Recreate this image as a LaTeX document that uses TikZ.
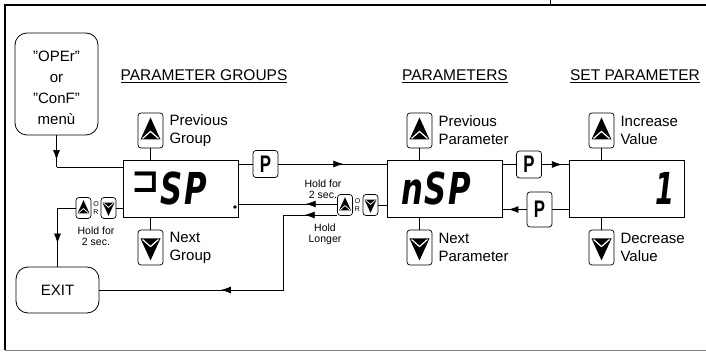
\documentclass[tikz,border=0pt]{standalone}
\usepackage{fontspec}
\setmainfont{Liberation Sans}
\newfontfamily\segfont{DejaVu Sans}
\usetikzlibrary{positioning, calc, arrows.meta, decorations.markings}

\tikzset{
  midarrow/.style={postaction={decorate}, decoration={markings,
      mark=at position #1 with {\arrow{Latex[length=10pt,width=7pt]}}}},
  midarrow/.default=0.5,
  wire/.style={line width=0.7pt},
  dispbox/.style={draw, line width=0.8pt, minimum width=115pt, minimum height=57pt, inner sep=0pt},
  menubox/.style={draw, line width=0.8pt, rounded corners=12pt, minimum width=83pt},
  menutext/.style={align=center, inner sep=0pt, font=\fontsize{15}{21}\selectfont},
  keybox/.style={draw, line width=0.7pt, rounded corners=3pt, inner sep=0pt},
  upkey/.style={keybox, minimum width=#1*25pt, minimum height=#1*35pt, path picture={
      \coordinate (kc) at (path picture bounding box.center);
      \fill[sharp corners] ($(kc)+(0,-13*#1)$) -- ($(kc)+(10*#1,9*#1)$) -- ($(kc)+(-10*#1,9*#1)$) -- cycle;
      \draw[white, line width=#1*1.2pt, sharp corners] ($(kc)+(-8*#1,8*#1)$) -- ($(kc)+(0,1*#1)$) -- ($(kc)+(8*#1,8*#1)$);
    }},
  upkey/.default=1,
  downkey/.style={keybox, minimum width=#1*25pt, minimum height=#1*35pt, path picture={
      \coordinate (kc) at (path picture bounding box.center);
      \fill[sharp corners] ($(kc)+(0,13*#1)$) -- ($(kc)+(10*#1,-9*#1)$) -- ($(kc)+(-10*#1,-9*#1)$) -- cycle;
      \draw[white, line width=#1*1.2pt, sharp corners] ($(kc)+(-8*#1,-8*#1)$) -- ($(kc)+(0,-1*#1)$) -- ($(kc)+(8*#1,-8*#1)$);
    }},
  downkey/.default=1,
  pkey/.style={keybox, minimum width=25pt, minimum height=#1, font=\bfseries\fontsize{24}{24}\selectfont},
  pkey/.default=27pt,
  lbl/.style={font=\fontsize{15}{18}\selectfont, align=left, inner sep=0pt},
  title/.style={font=\fontsize{15.5}{18}\selectfont},
  small/.style={font=\fontsize{10.5}{11}\selectfont, align=center, inner sep=0pt},
  ortext/.style={font=\fontsize{7}{7.5}\selectfont, align=center, inner sep=0pt},
  segtext/.style={font=\segfont\bfseries\itshape\fontsize{44}{44}\selectfont, inner sep=0pt}
}

\begin{document}
\begin{tikzpicture}[x=1pt, y=-1pt]
  \useasboundingbox (0,0) rectangle (706,352);

  % frame
  \draw[line width=1.2pt] (706,5) -- (5,5) -- (5,350);
  \draw[gray, line width=1pt] (5,350) -- (706,350);
  \draw[line width=1pt] (550,0) -- (550,5);

  % titles
  \node[title] (tgroups) at (204,76) {\underline{PARAMETER GROUPS}};
  \node[title] (tparams) at (455,76) {\underline{PARAMETERS}};
  \node[title] (tset) at (635,76) {\underline{SET PARAMETER}};

  % menu and exit
  \node[menubox, minimum height=102pt] (menu) at (56.5,84) {};
  \node[menutext] (menutxt) at (56.5,88) {"OPEr"\\or\\"ConF"\\menù};
  \node[menubox, minimum height=46pt, font=\fontsize{15}{18}\selectfont] (exit) at (57.5,290) {EXIT};

  % displays
  \node[dispbox] (disp1) at (181,189) {};
  \node[dispbox] (disp2) at (444.5,189) {};
  \node[dispbox] (disp3) at (626.5,189) {};
  \node[segtext] (seg1) at (169,188) {\scalebox{0.7}[1]{\raisebox{0.26em}{\scalebox{1.1}[0.8]{⊐}}\kern2pt S\kern2pt P}};
  \node[segtext] (seg2) at (436,188) {\scalebox{0.7}[1]{n\kern2pt S\kern2pt P}};
  \node[segtext] (seg3) at (665,188) {\scalebox{0.62}[1]{1}};
  \fill (235,207) circle (1.8pt);

  % up / down keys with labels
  \node[upkey] (up1) at (150.5,130.5) {};
  \node[downkey] (dn1) at (150.5,247.5) {};
  \node[upkey] (up2) at (419.5,130.5) {};
  \node[downkey] (dn2) at (419.5,247.5) {};
  \node[upkey] (up3) at (601.5,130.5) {};
  \node[downkey] (dn3) at (601.5,247.5) {};
  \node[lbl, right=6pt of up1] (lup1) {Previous\\Group};
  \node[lbl, right=6pt of dn1] (ldn1) {Next\\Group};
  \node[lbl, right=6pt of up2] (lup2) {Previous\\Parameter};
  \node[lbl, right=6pt of dn2] (ldn2) {Next\\Parameter};
  \node[lbl, right=6pt of up3] (lup3) {Increase\\Value};
  \node[lbl, right=6pt of dn3] (ldn3) {Decrease\\Value};
  \foreach \k/\d in {1/1, 2/2, 3/3} {
    \draw[wire] (up\k.south) -- (up\k |- disp\d.north);
    \draw[wire] (dn\k.north) -- (dn\k |- disp\d.south);
  }

  % P keys
  \node[pkey] (p1) at (265.5,164) {\scalebox{0.7}[1]{P}};
  \node[pkey] (p2) at (529,164.5) {\scalebox{0.7}[1]{P}};
  \node[pkey=35pt] (p3) at (539.5,209.5) {\scalebox{0.7}[1]{P}};

  % small key pairs
  \node[upkey=0.6] (upm) at (345,205) {};
  \node[downkey=0.6] (dnm) at (370.5,205) {};
  \node[ortext] (orm) at (357.5,205) {O\\R};
  \node[upkey=0.6] (upl) at (83.5,208) {};
  \node[downkey=0.6] (dnl) at (108.5,208) {};
  \node[ortext] (orl) at (96,208) {O\\R};

  % hold texts
  \node[small] (holdm) at (323,189) {Hold for\\2 sec.};
  \node[small] (holdl) at (325,234) {Hold\\Longer};
  \node[small] (holdg) at (96,236) {Hold for\\2 sec.};

  % connectors
  \coordinate (menuturn) at (menu.south |- 0,167);
  \draw[wire, midarrow=0.78] (menu.south) -- (menuturn);
  \draw[wire] (menuturn) -- (disp1.west |- menuturn);
  \draw[wire] (disp1.east |- p1.west) -- (p1.west);
  \draw[wire, midarrow=0.6] (p1.east) -- (disp2.west |- p1.east);
  \draw[wire, midarrow=0.32] ($(upm.west)+(0,-1)$) -- (disp1.east |- 0,204);
  \draw[wire] (dnm.east) -- (disp2.west |- dnm.east);
  \coordinate (longturn) at (283,215);
  \draw[wire, midarrow=0.6] ($(upm.west)+(0,10)$) -- (longturn);
  \draw[wire, midarrow=0.53] (longturn) -- (longturn |- exit.east) -- (exit.east);
  \draw[wire] (disp2.east |- p2.west) -- (p2.west);
  \draw[wire, midarrow=0.75] (p2.east) -- (disp3.west |- p2.east);
  \draw[wire] (disp3.west |- p3.east) -- (p3.east);
  \draw[wire, midarrow=0.75] (p3.west) -- (disp2.east |- p3.west);
  \draw[wire] (disp1.west |- dnl.east) -- (dnl.east);
  \coordinate (leftturn) at (exit.north |- upl.west);
  \draw[wire, midarrow=0.7] (upl.west) -- (leftturn) -- (exit.north);
\end{tikzpicture}
\end{document}
